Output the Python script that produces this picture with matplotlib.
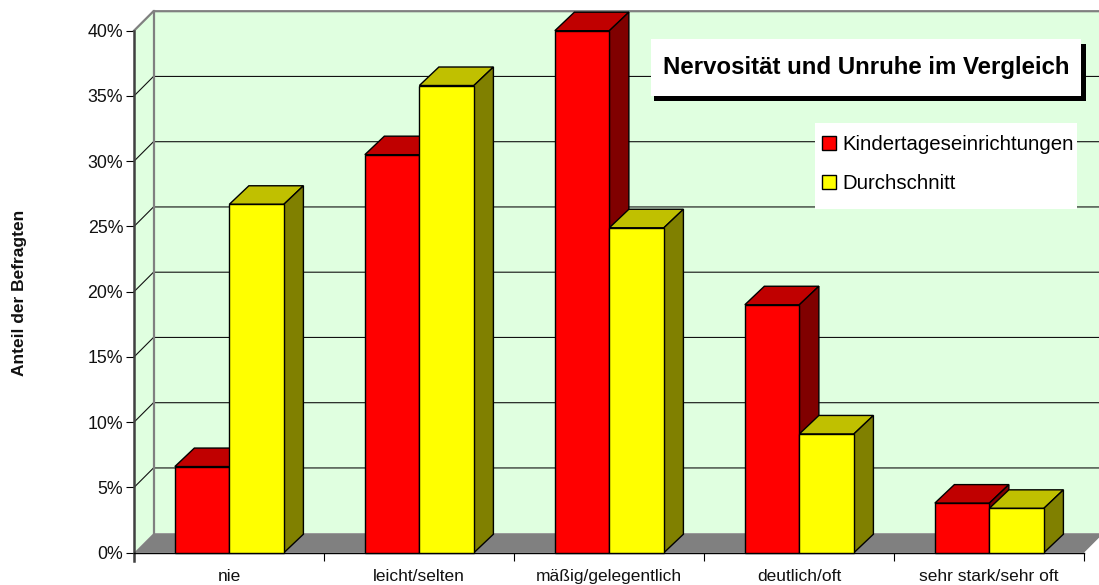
import matplotlib
matplotlib.use('Agg')
import matplotlib.pyplot as plt
from matplotlib.patches import Patch, Rectangle

plt.rcParams['font.family'] = ['Liberation Sans', 'DejaVu Sans']

# Data
categories = ['nie', 'leicht/selten', 'mäßig/gelegentlich', 'deutlich/oft', 'sehr stark/sehr oft']
kita = [6.6, 30.5, 40.0, 19.0, 3.8]
schnitt = [26.7, 35.8, 24.9, 9.1, 3.4]
yticks = [0, 5, 10, 15, 20, 25, 30, 35, 40]

W, H = 1099, 585
fig = plt.figure(figsize=(W/100, H/100), dpi=100, facecolor='white')
ax = fig.add_axes([134/W, 1-552.7/H, 950/W, 522/H])
ax.set_xlim(0, 5)
ax.set_ylim(0, 40)
ax.patch.set_visible(False)

# depth of the fake 3d box, in data units (19.5 px)
dx = 19.5/190
dy = 19.5/13.05
bar_dy = 18.5/13.05
bw = 0.287
gap = 0.215


def poly(xs, ys, color, z, edge='black', lw=1.0):
    ax.fill(xs, ys, facecolor=color, edgecolor=edge, linewidth=lw, zorder=z,
            clip_on=False, joinstyle='miter')


# walls and floor
wall = '#E0FFE0'
poly([0, dx, dx, 0], [0, dy, 40+dy, 40], wall, 1, edge='none')
poly([dx, 5+dx, 5+dx, dx], [dy, dy, 40+dy, 40+dy], wall, 1, edge='none')
poly([0, 5, 5+dx, dx], [0, 0, dy, dy], '#808080', 2, edge='none')

for v in yticks[1:-1]:
    ax.plot([0, dx, 5+dx], [v, v+dy, v+dy], color='#111111', lw=0.8, zorder=3, clip_on=False)
ax.plot([0, dx, 5+dx], [40, 40+dy, 40+dy], color='#808080', lw=1.6, zorder=3, clip_on=False)
ax.plot([dx, dx], [dy, 40+dy], color='#808080', lw=1.6, zorder=3, clip_on=False)


def box(x, h, front, top, side, z):
    poly([x, x+bw, x+bw+dx, x+dx], [h, h, h+bar_dy, h+bar_dy], top, z)
    poly([x+bw, x+bw+dx, x+bw+dx, x+bw], [0, bar_dy, h+bar_dy, h], side, z)
    ax.bar(x, h, width=bw, align='edge', color=front, edgecolor='black',
           linewidth=1.0, zorder=z, clip_on=False)


for i in range(len(categories)):
    x0 = i + gap
    box(x0, kita[i], '#FF0000', '#C00000', '#800000', 5)
    box(x0+bw, schnitt[i], '#FFFF00', '#C0C000', '#808000', 6)

# axes, ticks
for s in ['top', 'right']:
    ax.spines[s].set_visible(False)
ax.spines['left'].set_color('#404040')
ax.spines['left'].set_linewidth(1.8)
ax.spines['left'].set_bounds(-0.6, 40)
ax.spines['left'].set_zorder(4)
ax.spines['bottom'].set_color('black')
ax.spines['bottom'].set_linewidth(1.0)
ax.spines['bottom'].set_zorder(4)

ax.set_yticks(yticks)
ax.set_yticklabels([f'{v}%' for v in yticks], fontsize=12.8)
ax.tick_params(axis='y', length=5.8, width=0.8, pad=2, color='black', labelcolor='#111111')
ax.set_xticks(range(6))
ax.set_xticklabels([])
ax.tick_params(axis='x', length=5.8, width=0.8, color='black')
ax.set_xticks([i+0.5 for i in range(5)], minor=True)
ax.set_xticklabels(categories, minor=True, fontsize=12.5, color='#111111')
ax.tick_params(axis='x', which='minor', length=0, pad=12)

fig.text(20/W, 1-293/H, 'Anteil der Befragten', rotation=90, fontsize=12.5,
         fontweight='bold', ha='center', va='center', color='#111111')


def frect(x0, y0, x1, y1, color, z):
    ax.add_patch(Rectangle((x0/W, 1-y1/H), (x1-x0)/W, (y1-y0)/H, transform=fig.transFigure,
                           facecolor=color, edgecolor='none', zorder=z, clip_on=False))


# title box with shadow
frect(654, 44, 1086, 101, 'black', 8)
frect(651, 39, 1081, 96, 'white', 9)
ax.text(866/W, 1-67.5/H, 'Nervosität und Unruhe im Vergleich', transform=fig.transFigure,
        fontsize=17.3, fontweight='bold', ha='center', va='center', color='black', zorder=10)

# legend box
frect(815, 123, 1077, 209, 'white', 8)
handles = [Patch(facecolor='#FF0000', edgecolor='black', linewidth=1.0),
           Patch(facecolor='#FFFF00', edgecolor='black', linewidth=1.0)]
leg = ax.legend(handles, ['Kindertageseinrichtungen', 'Durchschnitt'], frameon=False,
                loc='upper left', bbox_to_anchor=(816/W, 1-129/H), bbox_transform=fig.transFigure,
                fontsize=14.7, handlelength=0.68, handleheight=0.68, handletextpad=0.3,
                labelspacing=0.98, borderpad=0.3, borderaxespad=0)
leg.set_zorder(10)

fig.savefig('out.png', dpi=100)
